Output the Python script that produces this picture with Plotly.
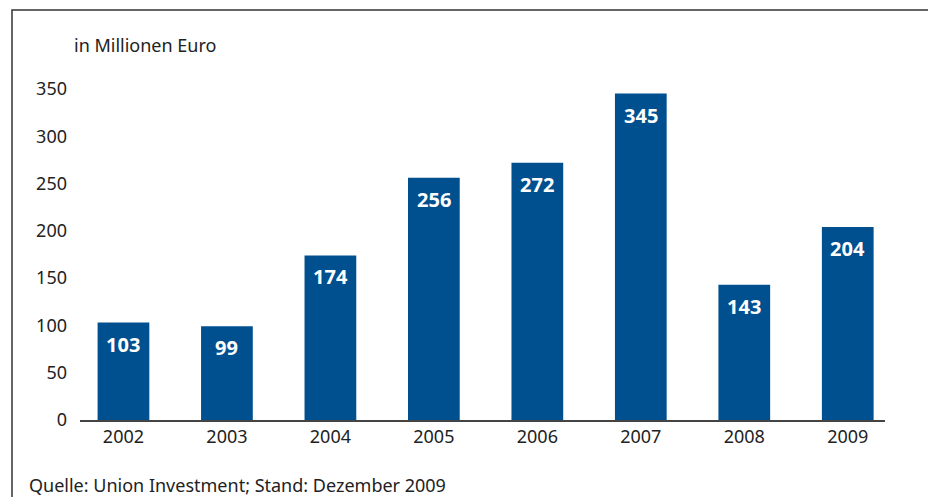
import plotly.graph_objects as go

years = ["2002", "2003", "2004", "2005", "2006", "2007", "2008", "2009"]
values = [103, 99, 174, 256, 272, 345, 143, 204]
y_ticks = [0, 50, 100, 150, 200, 250, 300, 350]

BLUE = "#00508f"
FONT = "Noto Sans"
FS = 18

# page body has an 8px margin; figure coordinates = screen coordinates - 8
OFF = 8
W, H = 936 - OFF, 497 - OFF
L, R, T, B = 80 - OFF, 936 - 885, 80 - OFF, 497 - 420
pw = W - L - R
ph = H - T - B


def px(sx):
    return (sx - OFF - L) / pw


def py(sy):
    return (H - B - (sy - OFF)) / ph


fig = go.Figure(go.Bar(
    x=years, y=values,
    marker=dict(color=BLUE, line=dict(width=0)),
    width=0.5,
    hoverinfo="x+y",
))

annotations = [
    dict(text=str(v), x=i, y=v, xref="x", yref="y", yanchor="top", yshift=-6,
         showarrow=False, font=dict(family=FONT, size=20, color="white", weight="bold"))
    for i, v in enumerate(values)
]
annotations += [
    dict(text="in Millionen Euro", xref="paper", yref="paper",
         x=px(72), y=py(45), xanchor="left", yanchor="middle",
         showarrow=False, font=dict(size=FS)),
    dict(text="Quelle: Union Investment; Stand: Dezember 2009", xref="paper", yref="paper",
         x=px(27), y=py(485), xanchor="left", yanchor="middle",
         showarrow=False, font=dict(size=FS)),
]

fig.update_layout(
    width=W, height=H,
    margin=dict(l=L, r=R, t=T, b=B),
    paper_bgcolor="white", plot_bgcolor="white",
    showlegend=False,
    font=dict(family=FONT, size=FS, color="#222222"),
    xaxis=dict(
        type="category", range=[-0.42, 7.36],
        showgrid=False, zeroline=False,
        showline=True, linecolor="#444444", linewidth=1.5,
        ticks="", tickfont=dict(size=FS),
    ),
    yaxis=dict(
        range=[0, 359.4], tickvals=y_ticks,
        showgrid=False, zeroline=False, showline=False,
        ticks="", ticklabelstandoff=12, tickfont=dict(size=FS),
    ),
    shapes=[dict(
        type="rect", xref="paper", yref="paper",
        x0=px(12), x1=px(930),
        y0=py(510), y1=py(10),
        line=dict(color="#333333", width=1.5), fillcolor="rgba(0,0,0,0)",
        layer="below",
    )],
    annotations=annotations,
)

fig.write_html("out.html")
